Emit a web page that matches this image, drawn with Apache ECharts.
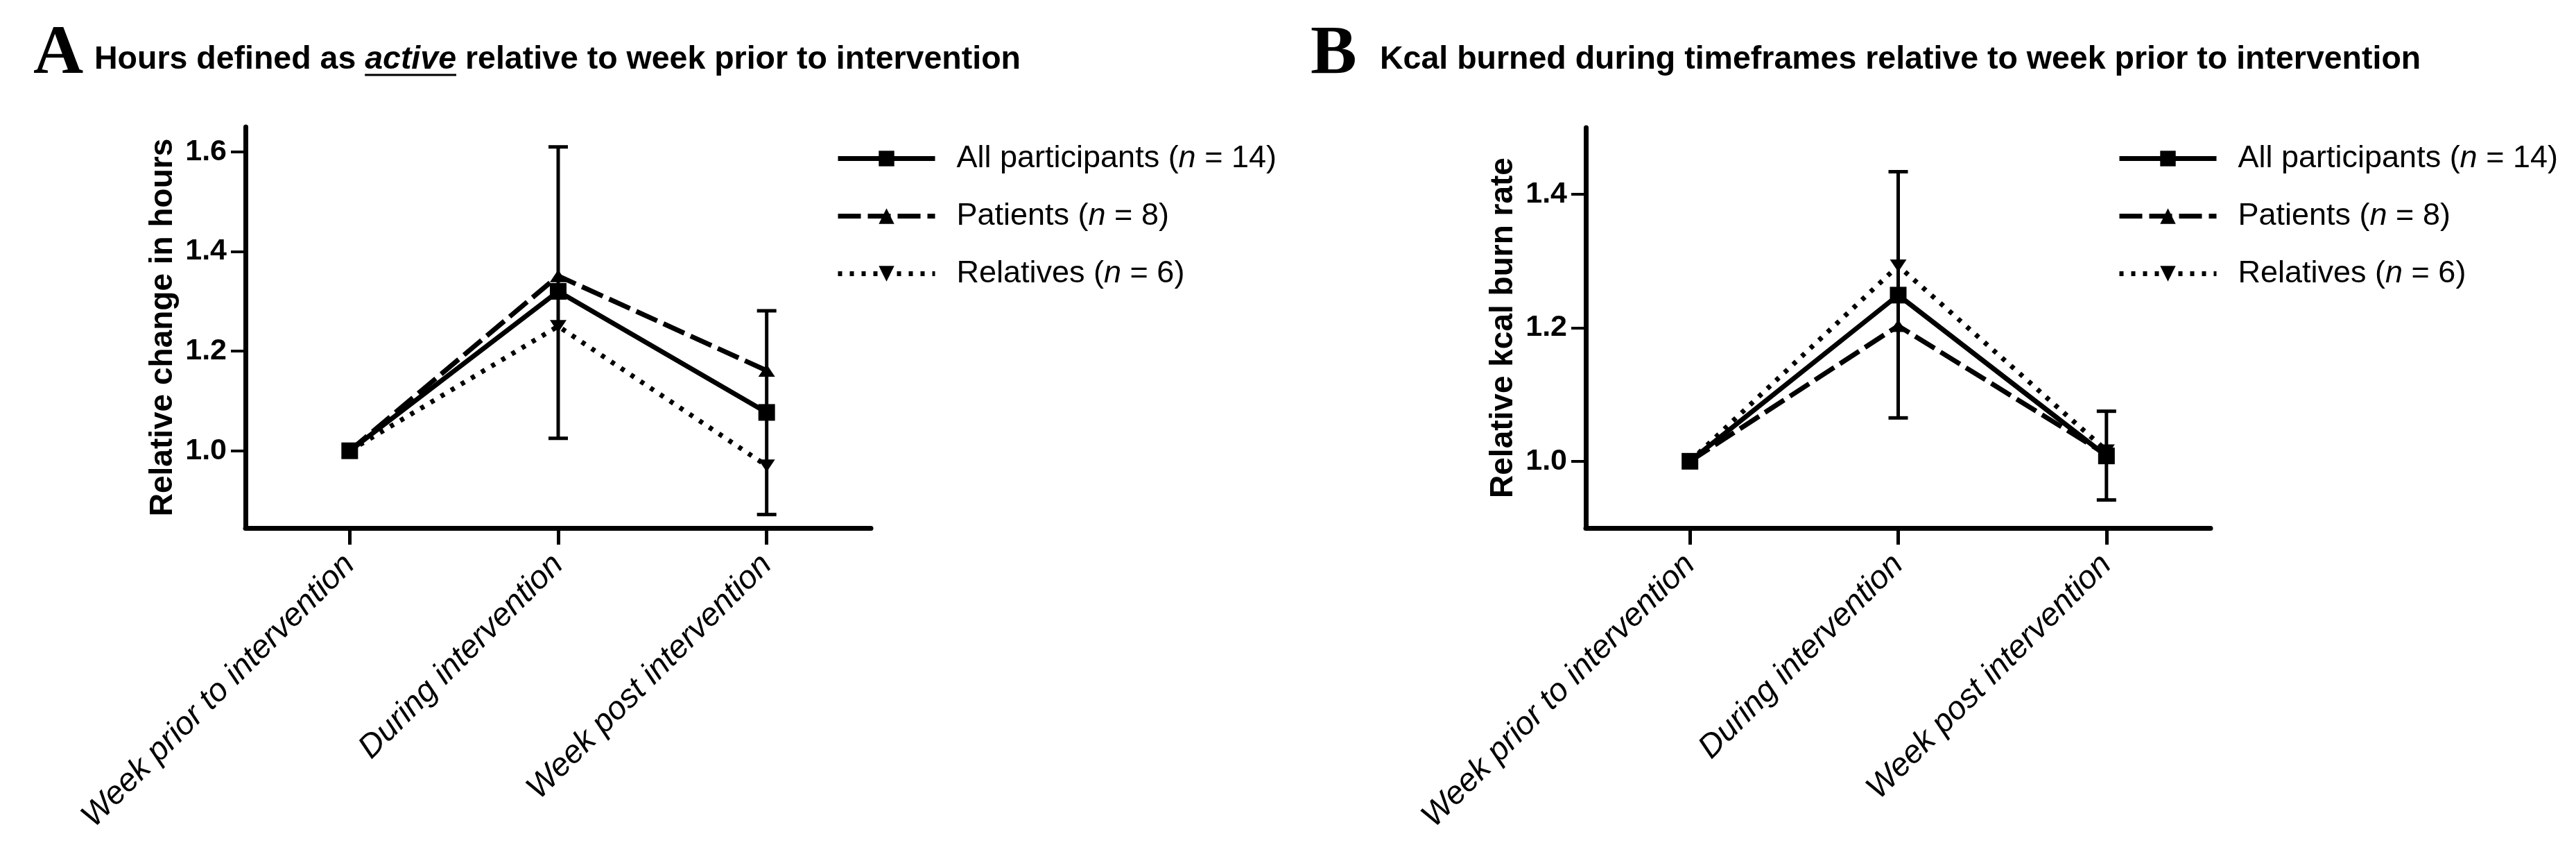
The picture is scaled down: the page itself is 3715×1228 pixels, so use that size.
<!DOCTYPE html>
<html><head><meta charset="utf-8">
<script src="https://cdn.jsdelivr.net/npm/echarts@6/dist/echarts.min.js"></script>
<style>html,body{margin:0;padding:0;background:#fff;} #c{width:3715px;height:1228px;}</style>
</head><body><div id="c"></div>
<script>
// ---------- data ----------
const categories = ['Week prior to intervention', 'During intervention', 'Week post intervention'];
const seriesNames = ['All participants (n = 14)', 'Patients (n = 8)', 'Relatives (n = 6)'];

// Panel A: hours defined as active, relative to week prior
const hoursAll = [1.0, 1.320, 1.077];
const hoursPatients = [1.0, 1.351, 1.161];
const hoursRelatives = [1.0, 1.250, 0.970];
const hoursAllLow = [null, 1.025, 0.872];
const hoursAllHigh = [null, 1.610, 1.281];
const hoursTicks = [1.0, 1.2, 1.4, 1.6];

// Panel B: kcal burned relative to week prior
const kcalAll = [1.0, 1.249, 1.008];
const kcalPatients = [1.0, 1.203, 1.010];
const kcalRelatives = [1.0, 1.293, 1.016];
const kcalAllLow = [null, 1.065, 0.942];
const kcalAllHigh = [null, 1.434, 1.075];
const kcalTicks = [1.0, 1.2, 1.4];

// ---------- helpers ----------
const FONT = 'Liberation Sans';
const BLACK = '#000';

function measure(text, font) {
  const c = document.createElement('canvas').getContext('2d');
  c.font = font;
  return c.measureText(text).width;
}

function legendFmt(name) {
  const m = name.match(/^(.*\()n( = .*)$/);
  return '{f|' + m[1] + '}{i|n}{a|' + m[2] + '}';
}

function errRender(params, api) {
  const x = api.value(0), lo = api.value(1), hi = api.value(2);
  const p1 = api.coord([x, hi]), p2 = api.coord([x, lo]);
  const hw = 14;
  const st = { stroke: BLACK, lineWidth: 5 };
  return { type: 'group', children: [
    { type: 'line', shape: { x1: p1[0], y1: p1[1], x2: p2[0], y2: p2[1] }, style: st },
    { type: 'line', shape: { x1: p1[0] - hw, y1: p1[1], x2: p1[0] + hw, y2: p1[1] }, style: st },
    { type: 'line', shape: { x1: p2[0] - hw, y1: p2[1], x2: p2[0] + hw, y2: p2[1] }, style: st }
  ]};
}

function errData(low, high) {
  const out = [];
  low.forEach((l, i) => { if (l != null) out.push([i, l, high[i]]); });
  return out;
}

const symSquare = 'rect';
const symUp = 'path://M0,17 L11,0 L22,17 Z';
const symDown = 'path://M0,0 L22,0 L11,17 Z';
const styles = [
  { symbol: symSquare, symbolSize: 24, line: { type: 'solid', width: 7 } },
  { symbol: symUp, symbolSize: [24, 18], line: { type: [33, 10], width: 7 } },
  { symbol: symDown, symbolSize: [24, 18], line: { type: [6, 11], width: 7 } }
];

function lineSeries(values, idx, axisIdx) {
  const s = styles[idx];
  return {
    type: 'line', name: seriesNames[idx], data: values,
    xAxisIndex: axisIdx, yAxisIndex: axisIdx,
    symbol: s.symbol, symbolSize: s.symbolSize, showSymbol: true,
    itemStyle: { color: BLACK, borderWidth: 0 },
    lineStyle: { color: BLACK, width: s.line.width, type: s.line.type, cap: 'butt' },
    emphasis: { disabled: true }, animation: false, z: 3
  };
}

function makeX(gridIndex) {
  return {
    type: 'category', gridIndex, data: categories, boundaryGap: true,
    axisLine: { show: true, onZero: false, lineStyle: { color: BLACK, width: 7 } },
    axisTick: { show: true, alignWithLabel: true, length: 24, lineStyle: { color: BLACK, width: 5 } },
    axisLabel: { interval: 0, rotate: 45, margin: 46, color: BLACK, fontSize: 47,
                 fontStyle: 'italic', fontFamily: FONT },
    splitLine: { show: false }
  };
}

function makeY(gridIndex, min, max, ticks, name) {
  return {
    type: 'value', gridIndex, min, max, name, nameLocation: 'middle', nameGap: 96,
    nameTextStyle: { color: BLACK, fontSize: 46, fontWeight: 'bold', fontFamily: FONT },
    axisLine: { show: true, onZero: false, lineStyle: { color: BLACK, width: 7 } },
    axisTick: { show: true, length: 21, customValues: ticks, lineStyle: { color: BLACK, width: 4 } },
    axisLabel: { customValues: ticks, margin: 27, color: BLACK, fontSize: 43, fontWeight: 'bold',
                 fontFamily: FONT, formatter: v => v.toFixed(1) },
    splitLine: { show: false }
  };
}

function makeLegend(left) {
  return {
    orient: 'vertical', left, top: 201, itemWidth: 140, itemHeight: 28, itemGap: 38,
    data: seriesNames, formatter: legendFmt, selectedMode: false,
    lineStyle: { width: 7, color: BLACK },
    itemStyle: { color: BLACK, borderWidth: 0 },
    textStyle: { rich: {
      f: { fontSize: 45, fontFamily: FONT, color: BLACK, lineHeight: 52, padding: [0, 0, 0, 26] },
      a: { fontSize: 45, fontFamily: FONT, color: BLACK, lineHeight: 52 },
      i: { fontSize: 45, fontFamily: FONT, color: BLACK, lineHeight: 52, fontStyle: 'italic' }
    } }
  };
}

// ---------- titles ----------
const TS = 46.5;
const titleFont = 'bold ' + TS + 'px "' + FONT + '"';
const titleItalic = 'italic bold ' + TS + 'px "' + FONT + '"';
const titleAx = 136, titleBx = 1990;
const preW = measure('Hours defined as ', titleFont);
const actW = measure('active', titleItalic);

const graphics = [
  { type: 'text', x: 48, y: 79, style: { text: 'A', font: 'bold 100px "Liberation Serif"', fill: BLACK, verticalAlign: 'middle' } },
  { type: 'text', x: 1890, y: 79, style: { text: 'B', font: 'bold 100px "Liberation Serif"', fill: BLACK, verticalAlign: 'middle' } },
  { type: 'text', x: titleAx, y: 86, style: {
      text: '{b|Hours defined as }{u|active}{b| relative to week prior to intervention}',
      verticalAlign: 'middle',
      rich: {
        b: { font: titleFont, fill: BLACK },
        u: { font: titleItalic, fill: BLACK }
      } } },
  { type: 'line', shape: { x1: titleAx + preW, y1: 108, x2: titleAx + preW + actW, y2: 108 },
    style: { stroke: BLACK, lineWidth: 3 } },
  { type: 'text', x: titleBx, y: 86, style: {
      text: 'Kcal burned during timeframes relative to week prior to intervention',
      font: titleFont, fill: BLACK, verticalAlign: 'middle' } }
];

// ---------- chart ----------
const chart = echarts.init(document.getElementById('c'), null, { renderer: 'canvas' });
chart.setOption({
  backgroundColor: '#fff',
  animation: false,
  textStyle: { fontFamily: FONT },
  grid: [
    { left: 354, top: 183, width: 902, height: 578, containLabel: false, outerBoundsMode: 'none' },
    { left: 2287, top: 184, width: 901, height: 577, containLabel: false, outerBoundsMode: 'none' }
  ],
  xAxis: [makeX(0), makeX(1)],
  yAxis: [
    makeY(0, 0.845, 1.65, hoursTicks, 'Relative change in hours'),
    makeY(1, 0.9, 1.5, kcalTicks, 'Relative kcal burn rate')
  ],
  legend: [makeLegend(1200), makeLegend(3048)],
  graphic: graphics,
  series: [
    { type: 'custom', name: 'SD A', xAxisIndex: 0, yAxisIndex: 0, renderItem: errRender,
      data: errData(hoursAllLow, hoursAllHigh), encode: { x: 0, y: [1, 2] }, z: 2, silent: true },
    lineSeries(hoursAll, 0, 0),
    lineSeries(hoursPatients, 1, 0),
    lineSeries(hoursRelatives, 2, 0),
    { type: 'custom', name: 'SD B', xAxisIndex: 1, yAxisIndex: 1, renderItem: errRender,
      data: errData(kcalAllLow, kcalAllHigh), encode: { x: 0, y: [1, 2] }, z: 2, silent: true },
    lineSeries(kcalAll, 0, 1),
    lineSeries(kcalPatients, 1, 1),
    lineSeries(kcalRelatives, 2, 1)
  ]
});
</script>
</body></html>
